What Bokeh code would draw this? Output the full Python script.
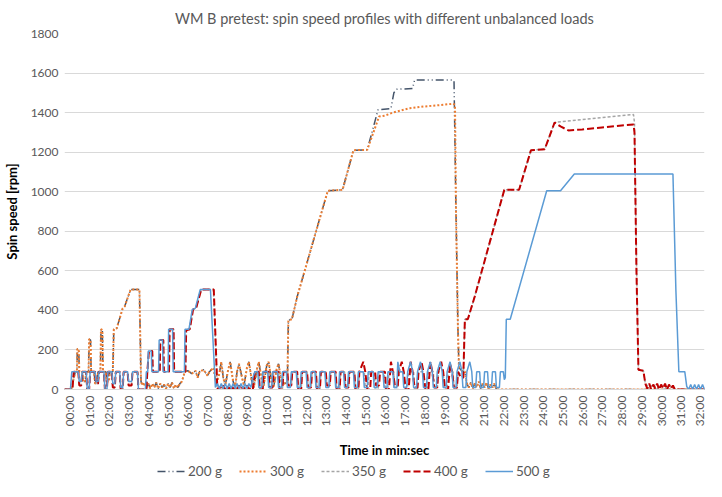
import math
from bokeh.plotting import figure
from bokeh.layouts import column
from bokeh.models import Legend, LegendItem, FixedTicker, Range1d
from bokeh.embed import file_html
from bokeh.resources import INLINE

TITLE = "WM B pretest: spin speed profiles with different unbalanced loads"
X_LABEL = "Time in min:sec"
Y_LABEL = "Spin speed [rpm]"
SERIES_NAMES = ["200 g", "300 g", "350 g", "400 g", "500 g"]
X_TICKS = list(range(0, 33))
X_TICK_LABELS = ["%02d:00" % m for m in X_TICKS]
Y_TICKS = [0, 200, 400, 600, 800, 1000, 1200, 1400, 1600, 1800]

# ---- 300 g (time in minutes, rpm) ----
t300 = [-0.25, 0.1, 0.2, 0.3, 0.38, 0.4, 0.47, 0.5, 0.65, 0.7, 0.8, 0.85, 0.97, 1.0, 1.07, 1.1, 1.25, 1.3, 1.4, 1.45,
        1.57, 1.6, 1.67, 1.7, 1.85, 1.9, 2.0, 2.05, 2.2, 2.25, 2.4, 2.7, 2.8, 3.1, 3.55, 3.63, 3.7, 3.8, 3.9, 4.0,
        4.1, 4.2, 4.3, 4.4, 4.5, 4.6, 4.7, 4.8, 4.9, 5.0, 5.1, 5.2, 5.3, 5.4, 5.5, 5.6, 5.7, 5.85, 6.0, 6.2,
        6.4, 6.5, 6.6, 6.8, 7.0, 7.1, 7.3, 7.45, 7.6, 7.7, 7.8, 7.9, 8.05, 8.15, 8.3, 8.4, 8.5, 8.6, 8.75, 8.85,
        9.0, 9.1, 9.25, 9.35, 9.5, 9.6, 9.75, 9.85, 10.0, 10.1, 10.25, 10.35, 10.5, 10.6, 10.75, 10.9, 11.05, 11.1, 11.28, 11.55,
        12.0, 12.5, 12.8, 13.1, 13.85, 14.4, 15.1, 15.7, 16.0, 16.4, 17.2, 18.0, 18.8, 19.45, 19.55, 19.6, 19.7, 19.75, 19.9, 20.05,
        20.15, 20.25, 20.35, 20.45, 20.55, 20.65, 20.75, 20.85, 20.95, 21.05, 21.15, 21.25, 21.35, 21.45, 21.55, 21.65, 32.5]
v300 = [0, 0, 50, 90, 90, 205, 205, 90, 90, 40, 40, 90, 90, 255, 250, 90, 90, 30, 30, 90,
        90, 305, 300, 90, 90, 40, 40, 90, 90, 305, 310, 410, 420, 505, 505, 40, 20, 35, 10, 30,
        5, 30, 10, 35, 5, 30, 10, 25, 5, 30, 10, 35, 5, 25, 10, 30, 40, 90, 95, 80,
        95, 60, 90, 100, 70, 90, 110, 30, 80, 140, 60, 20, 100, 140, 40, 10, 90, 130, 60, 20,
        110, 140, 40, 10, 100, 140, 50, 20, 120, 140, 40, 10, 100, 130, 40, 30, 35, 350, 355, 470,
        625, 798, 902, 1005, 1010, 1210, 1212, 1380, 1385, 1400, 1421, 1431, 1438, 1445, 1440, 900, 300, 110, 95, 90,
        30, 10, 35, 5, 30, 10, 40, 5, 30, 10, 35, 5, 25, 10, 30, 0, 0]

# ---- 200 g ----
t200 = [-0.25, 0.1, 0.2, 0.3, 0.38, 0.4, 0.47, 0.5, 0.65, 0.7, 0.8, 0.85, 0.97, 1.0, 1.07, 1.1, 1.25, 1.3, 1.4, 1.45,
        1.57, 1.6, 1.67, 1.7, 1.85, 1.9, 2.0, 2.05, 2.2, 2.25, 2.4, 2.7, 2.8, 3.1, 3.55, 3.63, 3.7, 3.8, 3.9, 4.0,
        4.1, 4.2, 4.3, 4.4, 4.5, 4.6, 4.7, 4.8, 4.9, 5.0, 5.1, 5.2, 5.3, 5.4, 5.5, 5.6, 5.7, 5.85, 6.0, 6.2,
        6.4, 6.5, 6.6, 6.8, 7.0, 7.1, 7.3, 7.45, 7.6, 7.7, 7.8, 7.9, 8.05, 8.15, 8.3, 8.4, 8.5, 8.6, 8.75, 8.85,
        9.0, 9.1, 9.25, 9.35, 9.5, 9.6, 9.75, 9.85, 10.0, 10.1, 10.25, 10.35, 10.5, 10.6, 10.75, 10.9, 11.05, 11.1, 11.28, 11.55,
        12.0, 12.5, 12.8, 13.1, 13.85, 14.4, 15.1, 15.65, 16.3, 16.45, 16.6, 17.4, 17.5, 19.45, 19.5, 19.6, 19.7, 19.75, 19.9, 20.05,
        20.15, 20.25, 20.35, 20.45, 20.55, 20.65, 20.75, 20.85, 20.95, 21.05, 21.15, 21.25, 21.35, 21.45, 21.55, 21.65, 32.5]
v200 = [0, 0, 50, 90, 90, 205, 205, 90, 90, 40, 40, 90, 90, 255, 250, 90, 90, 30, 30, 90,
        90, 305, 300, 90, 90, 40, 40, 90, 90, 305, 310, 410, 420, 505, 505, 40, 20, 35, 10, 30,
        5, 30, 10, 35, 5, 30, 10, 25, 5, 30, 10, 35, 5, 25, 10, 30, 40, 90, 95, 80,
        95, 60, 90, 100, 70, 90, 110, 30, 80, 140, 60, 20, 100, 140, 40, 10, 90, 130, 60, 20,
        110, 140, 40, 10, 100, 140, 50, 20, 120, 140, 40, 10, 100, 130, 40, 30, 35, 350, 355, 470,
        625, 798, 902, 1005, 1010, 1210, 1212, 1415, 1420, 1500, 1518, 1522, 1565, 1565, 1560, 900, 300, 110, 95, 90,
        30, 10, 35, 5, 30, 10, 40, 5, 30, 10, 35, 5, 25, 10, 30, 0, 0]

# ---- 400 g ----
t400 = [-0.25, 0.15, 0.22, 0.45, 0.5, 0.6, 0.65, 0.85, 0.9, 1.0, 1.05, 1.3, 1.35, 1.45, 1.5, 1.75, 1.8, 1.9, 1.95, 2.15,
        2.2, 2.3, 2.35, 2.55, 2.6, 2.7, 2.75, 2.95, 3.0, 3.15, 3.2, 3.45, 3.5, 3.9, 3.95, 4.03, 4.2, 4.23, 4.58, 4.61,
        4.76, 4.79, 5.05, 5.08, 5.28, 5.31, 5.88, 5.92, 6.1, 6.27, 6.42, 6.68, 7.32, 7.5, 7.6, 7.7, 7.8, 7.9, 8.0, 8.1,
        8.2, 8.3, 8.4, 8.5, 8.6, 8.7, 8.8, 8.9, 9.0, 9.1, 9.2, 9.3, 9.4, 9.6, 9.65, 9.8, 9.85, 10.1, 10.15, 10.3,
        10.35, 10.6, 10.65, 10.8, 10.85, 11.05, 11.1, 11.25, 11.3, 11.55, 11.6, 11.75, 11.8, 12.05, 12.1, 12.25, 12.3, 12.5, 12.55, 12.7,
        12.75, 13.0, 13.05, 13.2, 13.25, 13.5, 13.55, 13.7, 13.75, 13.95, 14.0, 14.15, 14.2, 14.45, 14.5, 14.65, 14.7, 14.9, 15.0, 15.1,
        15.25, 15.3, 15.5, 15.55, 15.7, 15.75, 16.0, 16.05, 16.2, 16.3, 16.4, 16.5, 16.65, 16.7, 16.85, 16.95, 17.05, 17.2, 17.3, 17.4,
        17.5, 17.65, 17.7, 17.85, 17.95, 18.05, 18.2, 18.3, 18.4, 18.5, 18.65, 18.7, 18.85, 18.95, 19.05, 19.2, 19.3, 19.4, 19.5, 19.65,
        19.7, 19.85, 19.97, 20.05, 20.2, 20.55, 22.05, 22.8, 23.4, 24.1, 24.6, 24.9, 25.3, 26.0, 27.0, 28.0, 28.6, 28.65, 28.75, 28.85,
        29.1, 29.2, 29.3, 29.4, 29.5, 29.6, 29.7, 29.8, 29.9, 30.0, 30.1, 30.2, 30.3, 30.4, 30.5, 30.6, 30.7, 32.5]
v400 = [0, 0, 90, 90, 20, 20, 90, 90, 0, 0, 90, 90, 30, 30, 90, 90, 0, 0, 90, 90,
        10, 10, 90, 90, 0, 0, 90, 90, 20, 20, 90, 90, 0, 0, 90, 195, 195, 90, 90, 250,
        250, 90, 90, 305, 305, 90, 90, 300, 305, 405, 410, 505, 505, 0, 15, 0, 20, 0, 15, 0,
        20, 0, 15, 0, 20, 0, 15, 0, 20, 0, 10, 0, 90, 90, 0, 0, 90, 90, 10, 10,
        90, 90, 0, 0, 90, 90, 20, 20, 90, 90, 0, 0, 90, 90, 10, 10, 90, 90, 0, 0,
        90, 90, 20, 20, 90, 90, 0, 0, 90, 90, 10, 10, 90, 90, 0, 0, 90, 140, 90, 0,
        0, 90, 90, 20, 20, 90, 90, 0, 0, 140, 90, 20, 20, 90, 140, 90, 0, 0, 140, 90,
        10, 10, 90, 140, 90, 0, 0, 140, 90, 10, 10, 90, 140, 90, 0, 0, 130, 90, 10, 10,
        90, 60, 60, 355, 355, 470, 1010, 1010, 1210, 1215, 1350, 1330, 1310, 1315, 1325, 1335, 1340, 1300, 600, 100,
        95, 30, 5, 30, 0, 25, 5, 30, 0, 25, 5, 30, 0, 25, 5, 20, 0, 0]

# ---- 350 g ----
t350 = [-0.25, 0.15, 0.22, 0.45, 0.5, 0.6, 0.65, 0.85, 0.9, 1.0, 1.05, 1.3, 1.35, 1.45, 1.5, 1.75, 1.8, 1.9, 1.95, 2.15,
        2.2, 2.3, 2.35, 2.55, 2.6, 2.7, 2.75, 2.95, 3.0, 3.15, 3.2, 3.45, 3.5, 3.9, 3.95, 4.03, 4.2, 4.23, 4.58, 4.61,
        4.76, 4.79, 5.05, 5.08, 5.28, 5.31, 5.88, 5.92, 6.1, 6.27, 6.42, 6.68, 7.3, 7.5, 7.7, 7.9, 8.1, 8.3, 8.5, 8.7,
        8.9, 9.1, 9.3, 9.4, 9.6, 9.65, 9.8, 9.85, 10.1, 10.15, 10.3, 10.35, 10.6, 10.65, 10.8, 10.85, 11.05, 11.1, 11.25, 11.3,
        11.55, 11.6, 11.75, 11.8, 12.05, 12.1, 12.25, 12.3, 12.5, 12.55, 12.7, 12.75, 13.0, 13.05, 13.2, 13.25, 13.5, 13.55, 13.7, 13.75,
        13.95, 14.0, 14.15, 14.2, 14.45, 14.5, 14.65, 14.7, 14.95, 15.0, 15.15, 15.2, 15.45, 15.5, 15.65, 15.7, 15.95, 16.0, 16.15, 16.2,
        16.45, 16.5, 16.65, 16.7, 16.95, 17.0, 17.15, 17.2, 17.45, 17.5, 17.65, 17.7, 17.95, 18.0, 18.15, 18.2, 18.45, 18.5, 18.65, 18.7,
        18.95, 19.0, 19.15, 19.2, 19.45, 19.5, 19.65, 19.7, 19.97, 20.05, 20.2, 20.55, 22.05, 22.8, 23.4, 24.1, 24.6, 25.0, 26.0, 27.0,
        28.0, 28.6, 28.65, 28.75, 28.85, 29.1, 29.2, 29.4, 29.6, 29.8, 30.0, 30.2, 30.4, 30.6, 30.7, 32.5]
v350 = [0, 0, 90, 90, 20, 20, 90, 90, 0, 0, 90, 90, 30, 30, 90, 90, 0, 0, 90, 90,
        10, 10, 90, 90, 0, 0, 90, 90, 20, 20, 90, 90, 0, 0, 90, 195, 195, 90, 90, 250,
        250, 90, 90, 305, 305, 90, 90, 300, 305, 405, 410, 505, 505, 0, 10, 0, 10, 0, 10, 0,
        10, 0, 10, 90, 90, 0, 0, 90, 90, 10, 10, 90, 90, 0, 0, 90, 90, 20, 20, 90,
        90, 0, 0, 90, 90, 10, 10, 90, 90, 0, 0, 90, 90, 20, 20, 90, 90, 0, 0, 90,
        90, 10, 10, 90, 90, 0, 0, 90, 90, 10, 10, 90, 90, 0, 0, 90, 90, 10, 10, 90,
        90, 0, 0, 90, 90, 10, 10, 90, 90, 0, 0, 90, 90, 10, 10, 90, 90, 0, 0, 90,
        90, 10, 10, 90, 90, 0, 0, 90, 60, 355, 355, 470, 1010, 1010, 1210, 1215, 1350, 1355, 1365, 1375,
        1385, 1390, 1350, 650, 100, 95, 30, 10, 25, 5, 20, 5, 20, 5, 0, 0]

# ---- 500 g ----
t500 = [-0.25, 0.05, 0.12, 0.45, 0.5, 0.6, 0.65, 0.85, 0.9, 1.0, 1.05, 1.3, 1.35, 1.45, 1.5, 1.75, 1.8, 1.9, 1.95, 2.15,
        2.2, 2.3, 2.35, 2.55, 2.6, 2.7, 2.75, 2.95, 3.0, 3.15, 3.2, 3.45, 3.5, 3.85, 3.9, 3.97, 4.0, 4.15, 4.18, 4.52,
        4.55, 4.72, 4.75, 5.0, 5.03, 5.23, 5.26, 5.83, 5.86, 6.06, 6.23, 6.38, 6.63, 7.15, 7.4, 7.5, 7.6, 7.7, 7.8, 7.9,
        8.0, 8.1, 8.2, 8.3, 8.4, 8.5, 8.6, 8.7, 8.8, 8.9, 9.0, 9.1, 9.2, 9.3, 9.4, 9.55, 9.6, 9.75, 9.8, 10.05,
        10.1, 10.25, 10.3, 10.55, 10.6, 10.75, 10.8, 11.0, 11.05, 11.2, 11.25, 11.5, 11.55, 11.7, 11.75, 12.0, 12.05, 12.2, 12.25, 12.45,
        12.5, 12.65, 12.7, 12.95, 13.0, 13.15, 13.2, 13.45, 13.5, 13.65, 13.7, 13.9, 13.95, 14.1, 14.15, 14.4, 14.45, 14.6, 14.65, 14.9,
        14.95, 15.1, 15.15, 15.4, 15.45, 15.6, 15.65, 15.9, 15.95, 16.1, 16.15, 16.4, 16.45, 16.6, 16.65, 16.75, 16.9, 16.95, 17.1, 17.15,
        17.3, 17.4, 17.45, 17.6, 17.65, 17.8, 17.9, 17.95, 18.1, 18.15, 18.3, 18.4, 18.45, 18.6, 18.65, 18.8, 18.9, 18.95, 19.1, 19.15,
        19.3, 19.4, 19.45, 19.6, 19.65, 19.8, 19.9, 19.95, 20.1, 20.15, 20.3, 20.4, 20.45, 20.6, 20.65, 20.8, 20.85, 21.0, 21.05, 21.2,
        21.25, 21.4, 21.45, 21.6, 21.65, 21.8, 21.85, 22.0, 22.05, 22.1, 22.15, 22.35, 24.2, 24.9, 25.6, 30.6, 30.75, 30.9, 31.2, 31.3,
        31.4, 31.5, 31.6, 31.7, 31.8, 31.9, 32.0, 32.1, 32.2, 32.3, 32.4, 32.5]
v500 = [0, 0, 90, 90, 40, 40, 90, 90, 5, 5, 90, 90, 40, 40, 90, 90, 0, 0, 90, 90,
        30, 30, 90, 90, 10, 10, 90, 90, 40, 40, 90, 90, 0, 0, 90, 90, 195, 195, 90, 90,
        250, 250, 90, 90, 305, 305, 90, 90, 305, 305, 405, 410, 505, 505, 10, 30, 5, 30, 5, 30,
        5, 30, 5, 30, 5, 30, 5, 30, 5, 30, 5, 30, 10, 60, 90, 90, 10, 10, 90, 90,
        10, 10, 90, 90, 10, 10, 90, 90, 10, 10, 90, 90, 10, 10, 90, 90, 10, 10, 90, 90,
        10, 10, 90, 90, 10, 10, 90, 90, 10, 10, 90, 90, 10, 10, 90, 90, 10, 10, 90, 90,
        10, 10, 90, 90, 10, 10, 90, 90, 10, 10, 90, 90, 10, 10, 140, 90, 90, 10, 10, 90,
        140, 90, 10, 10, 90, 140, 90, 10, 10, 90, 140, 90, 10, 10, 90, 140, 90, 10, 10, 90,
        140, 90, 10, 10, 90, 140, 90, 10, 10, 90, 140, 90, 10, 10, 90, 90, 10, 10, 90, 90,
        10, 10, 90, 90, 10, 10, 90, 90, 50, 60, 355, 355, 1005, 1005, 1090, 1090, 500, 90, 90, 15,
        0, 25, 0, 25, 0, 25, 0, 25, 0, 25, 0, 20]

FONT = "Lato"
GREY_TXT = "#595959"
STYLES = [dict(line_color="#44546A", line_width=1.5, line_dash="8 3 1 3 1 3"),
          dict(line_color="#ED7D31", line_width=2, line_dash="2 2"),
          dict(line_color="#A5A5A5", line_width=1.5, line_dash="3 2"),
          dict(line_color="#C00000", line_width=2, line_dash="7 3"),
          dict(line_color="#5B9BD5", line_width=1.5)]

p = figure(width=706, height=461, output_backend="svg", toolbar_location=None,
           x_range=Range1d(-0.25, 32.2), y_range=Range1d(0, 1800),
           min_border_left=58, min_border_right=2, min_border_top=29, min_border_bottom=71,
           title=TITLE)
p.title.align = "center"
p.title.text_font = FONT
p.title.text_font_style = "normal"
p.title.text_font_size = "14.5px"
p.title.text_color = GREY_TXT
p.title.standoff = 14
p.outline_line_color = None
p.xgrid.grid_line_color = None
p.ygrid.grid_line_color = "#D9D9D9"
p.ygrid.grid_line_width = 1

xa = p.xaxis[0]
xa.ticker = FixedTicker(ticks=X_TICKS)
xa.major_label_overrides = {t: lab for t, lab in zip(X_TICKS, X_TICK_LABELS)}
xa.major_label_orientation = math.pi / 2
xa.major_tick_line_color = None
xa.minor_tick_line_color = None
xa.major_tick_out = 0
xa.major_tick_in = 0
xa.minor_tick_out = 0
xa.axis_line_color = "#D9D9D9"
xa.major_label_text_font = FONT
xa.major_label_text_font_size = "12px"
xa.major_label_text_color = GREY_TXT
xa.major_label_standoff = 6
xa.axis_label = X_LABEL
xa.axis_label_text_font = FONT
xa.axis_label_text_font_style = "bold"
xa.axis_label_text_font_size = "13px"
xa.axis_label_text_color = "#000000"
xa.axis_label_standoff = 13

ya = p.yaxis[0]
ya.ticker = FixedTicker(ticks=Y_TICKS)
ya.axis_line_color = None
ya.major_tick_line_color = None
ya.minor_tick_line_color = None
ya.major_tick_out = 0
ya.major_tick_in = 0
ya.minor_tick_out = 0
ya.major_label_text_font = FONT
ya.major_label_text_font_size = "12px"
ya.major_label_text_color = GREY_TXT
ya.major_label_standoff = 6
ya.axis_label = Y_LABEL
ya.axis_label_text_font = FONT
ya.axis_label_text_font_style = "bold"
ya.axis_label_text_font_size = "13px"
ya.axis_label_text_color = "#000000"
ya.axis_label_standoff = 8

series = [(t200, v200), (t300, v300), (t350, v350), (t400, v400), (t500, v500)]
for (tt, vv), st in zip(series, STYLES):
    p.line(tt, vv, **st)

# legend strip below the chart (its sample lines lie outside its visible range)
lg = figure(width=706, height=20, output_backend="svg", toolbar_location=None,
            x_range=Range1d(0, 1), y_range=Range1d(0, 1),
            x_axis_type=None, y_axis_type=None,
            min_border_left=0, min_border_right=0, min_border_top=0, min_border_bottom=0)
lg.outline_line_color = None
lg.xgrid.grid_line_color = None
lg.ygrid.grid_line_color = None
leg_renderers = [lg.line([5, 6], [5, 6], **st) for st in STYLES]
items = [LegendItem(label=n, renderers=[r]) for n, r in zip(SERIES_NAMES, leg_renderers)]
legend = Legend(items=items, orientation="horizontal", location=(93, 2))
legend.border_line_color = None
legend.background_fill_alpha = 0
legend.label_text_font = FONT
legend.label_text_font_size = "13.5px"
legend.label_text_color = GREY_TXT
legend.glyph_width = 28
legend.glyph_height = 14
legend.label_standoff = 3
legend.spacing = 17
legend.padding = 0
legend.margin = 0
lg.add_layout(legend, "center")

layout = column(p, lg, spacing=0)
open("out.html", "w").write(file_html(layout, INLINE))
